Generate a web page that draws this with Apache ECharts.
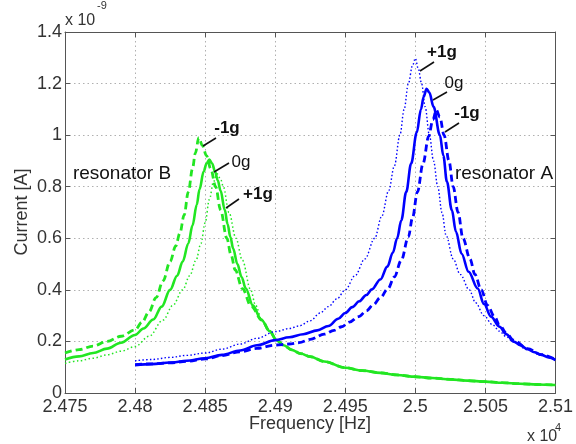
<!DOCTYPE html>
<html>
<head>
<meta charset="utf-8">
<script src="https://cdn.jsdelivr.net/npm/echarts@6/dist/echarts.min.js"></script>
<style>
html,body{margin:0;padding:0;background:#fff;}
#chart{width:576px;height:444px;}
</style>
</head>
<body>
<div id="chart"></div>
<script>
// ---------- DATA (frequency in Hz, current in units of 1e-9 A) ----------
// Resonator B (green)
const bSolidFreq = [24750,24760,24770,24780,24790,24800,24806,24813,24819,24825,24830,24834,24838,24841,24844,24846,24849,24851,24853,24855,24857,24859,24861,24864,24866,24868,24870,24873,24876,24879,24884,24890,24896,24901,24906,24912,24918,24925,24935,24950,24962,24975,24987,25000,25012,25025,25037,25050,25062,25075,25087,25100];
const bSolidCur  = [0.13,0.142,0.155,0.172,0.195,0.225,0.25,0.285,0.335,0.4,0.455,0.51,0.58,0.65,0.73,0.79,0.86,0.89,0.905,0.89,0.86,0.825,0.785,0.71,0.655,0.605,0.56,0.5,0.45,0.405,0.34,0.285,0.24,0.205,0.185,0.167,0.153,0.141,0.122,0.098,0.087,0.078,0.07,0.063,0.058,0.053,0.048,0.044,0.04,0.036,0.033,0.031];

const bMinusFreq = [24750,24760,24770,24780,24790,24800,24805,24810,24815,24820,24825,24829,24832,24835,24838,24841,24843,24845.5,24848,24851,24854,24857.5,24861,24865.5,24868.5,24871.5,24876.5,24883,24890.5,24896,24901,24906,24912,24918,24925,24935,24950,24962,24975,24987,25000,25012,25025,25037,25050,25062,25075,25087,25100];
const bMinusCur  = [0.155,0.168,0.182,0.2,0.22,0.245,0.275,0.315,0.37,0.435,0.51,0.57,0.62,0.69,0.78,0.87,0.93,0.99,0.96,0.92,0.87,0.8,0.71,0.6,0.535,0.477,0.405,0.335,0.283,0.24,0.205,0.185,0.167,0.153,0.141,0.122,0.098,0.087,0.078,0.07,0.063,0.058,0.053,0.048,0.044,0.04,0.036,0.033,0.031];

const bPlusFreq = [24750,24760,24770,24780,24790,24800,24810,24820,24827,24834,24839,24843.5,24847,24850,24853,24856,24858.5,24861,24863,24867,24872,24876.5,24882.5,24886,24890.5,24896,24901,24906,24912,24918,24925,24935,24950,24962,24975,24987,25000,25012,25025,25037,25050,25062,25075,25087,25100];
const bPlusCur  = [0.115,0.125,0.135,0.148,0.162,0.18,0.22,0.283,0.34,0.4,0.455,0.515,0.58,0.66,0.75,0.82,0.85,0.83,0.8,0.7,0.6,0.516,0.4,0.34,0.283,0.24,0.205,0.185,0.167,0.153,0.141,0.122,0.098,0.087,0.078,0.07,0.063,0.058,0.053,0.048,0.044,0.04,0.036,0.033,0.031];

// Resonator A (blue)
const aSolidFreq = [24800,24812,24825,24837,24850,24862,24875,24887,24900,24910,24920,24930,24938,24945,24950,24955,24960,24965,24969,24975,24980,24984,24987,24990,24993.5,24997,25001,25004,25006,25008,25010,25013,25017.5,25020,25022.5,25026,25029,25033,25038,25044.5,25049,25054,25060,25065,25070,25075,25080,25085,25090,25095,25100];
const aSolidCur  = [0.108,0.112,0.118,0.125,0.135,0.148,0.165,0.185,0.205,0.216,0.228,0.243,0.26,0.288,0.31,0.333,0.356,0.38,0.402,0.44,0.49,0.545,0.6,0.67,0.78,0.89,1.01,1.1,1.15,1.18,1.165,1.11,1.0,0.92,0.82,0.71,0.625,0.54,0.47,0.405,0.345,0.296,0.257,0.228,0.2,0.185,0.17,0.158,0.148,0.138,0.128];

const aPlusFreq = [24800,24812,24825,24837,24850,24862,24875,24887,24900,24910,24917,24925,24932,24938,24944,24950,24957,24964,24971,24976,24981,24985,24989,24992,24995,24998,25000,25002,25004.5,25007,25010,25013,25016,25019,25022,25027,25032,25038.5,25043,25049,25055,25060,25065,25070,25080,25090,25100];
const aPlusCur  = [0.125,0.13,0.138,0.146,0.155,0.17,0.19,0.212,0.238,0.25,0.26,0.28,0.31,0.335,0.365,0.4,0.455,0.52,0.6,0.685,0.785,0.88,1.0,1.1,1.2,1.27,1.298,1.26,1.2,1.11,1.0,0.9,0.8,0.7,0.61,0.52,0.46,0.4,0.35,0.3,0.265,0.24,0.218,0.198,0.168,0.146,0.128];

const aMinusFreq = [24800,24812,24825,24837,24850,24862,24875,24887,24900,24910,24917,24925,24935,24942,24947.5,24953,24959.5,24965,24970,24975,24980.5,24985,24990,24995,24998,25001.5,25005.5,25009.5,25012.5,25015,25017.5,25020.5,25024,25027,25030.5,25034,25039,25042.5,25047,25051.5,25056.5,25060,25065,25070,25080,25090,25100];
const aMinusCur  = [0.11,0.113,0.117,0.123,0.132,0.145,0.16,0.173,0.186,0.19,0.195,0.208,0.228,0.243,0.257,0.275,0.296,0.318,0.342,0.37,0.405,0.45,0.515,0.605,0.68,0.78,0.89,0.995,1.06,1.097,1.07,1.0,0.9,0.8,0.7,0.6,0.52,0.46,0.4,0.34,0.296,0.265,0.232,0.205,0.172,0.149,0.13];

// axis ranges
const xMin = 24750, xMax = 25100, xStep = 50;
const yMin = 0, yMax = 1.4, yStep = 0.2;

// ---------- CHART ----------
const GREEN = '#22e622';
const BLUE = '#0000ff';
const FONT = 'Liberation Sans, Arial, sans-serif';
const toPairs = (xs, ys) => xs.map((x, i) => [x, ys[i]]);

const chart = echarts.init(document.getElementById('chart'), null, {renderer: 'canvas'});

function mkSeries(xs, ys, color, width, type, z) {
  return {
    type: 'line', data: toPairs(xs, ys), showSymbol: false, symbol: 'none',
    smooth: 0.35, smoothMonotone: 'x',
    lineStyle: {color: color, width: width, type: type}, z: z, silent: true
  };
}

const axisColor = '#555';
const option = {
  animation: false,
  backgroundColor: '#fff',
  grid: {left: 65, right: 18, top: 32, bottom: 51, show: false},
  xAxis: [{
    type: 'value', min: xMin, max: xMax, interval: xStep,
    axisLine: {show: true, onZero: false, lineStyle: {color: axisColor, width: 1}},
    axisTick: {show: true, inside: true, length: 5, lineStyle: {color: axisColor}},
    axisLabel: {color: '#333', fontSize: 18, fontFamily: FONT, margin: 5,
      formatter: v => String(+(v / 1e4).toFixed(4))},
    splitLine: {show: true, lineStyle: {color: '#b0b0b0', type: [1.5, 3], width: 1}}
  }, {
    type: 'value', min: xMin, max: xMax, interval: xStep, position: 'top',
    axisLine: {show: true, onZero: false, lineStyle: {color: axisColor, width: 1}},
    axisTick: {show: true, inside: true, length: 5, lineStyle: {color: axisColor}},
    axisLabel: {show: false}, splitLine: {show: false}
  }],
  yAxis: [{
    type: 'value', min: yMin, max: yMax, interval: yStep,
    axisLine: {show: true, onZero: false, lineStyle: {color: axisColor, width: 1}},
    axisTick: {show: true, inside: true, length: 5, lineStyle: {color: axisColor}},
    axisLabel: {color: '#333', fontSize: 18, fontFamily: FONT, margin: 3,
      formatter: v => String(+v.toFixed(2))},
    splitLine: {show: true, lineStyle: {color: '#b0b0b0', type: [1.5, 3], width: 1}}
  }, {
    type: 'value', min: yMin, max: yMax, interval: yStep, position: 'right',
    axisLine: {show: true, onZero: false, lineStyle: {color: axisColor, width: 1}},
    axisTick: {show: true, inside: true, length: 5, lineStyle: {color: axisColor}},
    axisLabel: {show: false}, splitLine: {show: false}
  }],
  series: [
    mkSeries(bPlusFreq, bPlusCur, GREEN, 1.5, [1.5, 2.5], 2),
    mkSeries(bMinusFreq, bMinusCur, GREEN, 2.8, [7, 4], 3),
    mkSeries(bSolidFreq, bSolidCur, GREEN, 2.6, 'solid', 4),
    mkSeries(aPlusFreq, aPlusCur, BLUE, 1.4, [1.5, 2.2], 5),
    mkSeries(aMinusFreq, aMinusCur, BLUE, 2.8, [7, 4], 6),
    mkSeries(aSolidFreq, aSolidCur, BLUE, 2.6, 'solid', 7)
  ]
};

const txt = (x, y, text, size, weight, extra) => Object.assign({
  type: 'text', x: x, y: y, z: 100,
  style: Object.assign({text: text, fontSize: size, fontWeight: weight || 'normal', fontFamily: FONT,
    fill: '#111', align: 'center', verticalAlign: 'middle'}, extra || {})
});
const seg = (x1, y1, x2, y2) => ({
  type: 'line', z: 100, shape: {x1: x1, y1: y1, x2: x2, y2: y2},
  style: {stroke: '#111', lineWidth: 1.6}
});

option.graphic = [
  // exponents
  txt(65, 21, 'x 10', 16, 'normal', {align: 'left', fill: '#333'}),
  txt(97, 6, '-9', 11, 'normal', {align: 'left', fill: '#333'}),
  txt(527, 437, 'x 10', 16, 'normal', {align: 'left', fill: '#333'}),
  txt(555, 428, '4', 11, 'normal', {align: 'left', fill: '#333'}),
  // axis names
  txt(310, 424, 'Frequency [Hz]', 18, 'normal', {fill: '#333'}),
  {type: 'text', x: 22, y: 212, rotation: Math.PI / 2, z: 100,
    style: {text: 'Current [A]', fontSize: 18, fontFamily: FONT, fill: '#333', align: 'center', verticalAlign: 'middle'}},
  // resonator labels
  txt(122, 174, 'resonator B', 19, 'normal'),
  txt(504, 174, 'resonator A', 19, 'normal'),
  // green annotations
  txt(227, 128, '-1g', 17, 'bold'), seg(203, 146, 216, 138),
  txt(241, 162, '0g', 17, 'normal'), seg(214, 172, 229, 163),
  txt(258, 194, '+1g', 17, 'bold'), seg(226, 208, 239, 199),
  // blue annotations
  txt(442, 52, '+1g', 17, 'bold'), seg(420, 71, 434, 62),
  txt(454, 83, '0g', 17, 'normal'), seg(433, 100, 447, 92),
  txt(467, 113, '-1g', 17, 'bold'), seg(445, 132, 459, 123)
];

chart.setOption(option);
</script>
</body>
</html>
